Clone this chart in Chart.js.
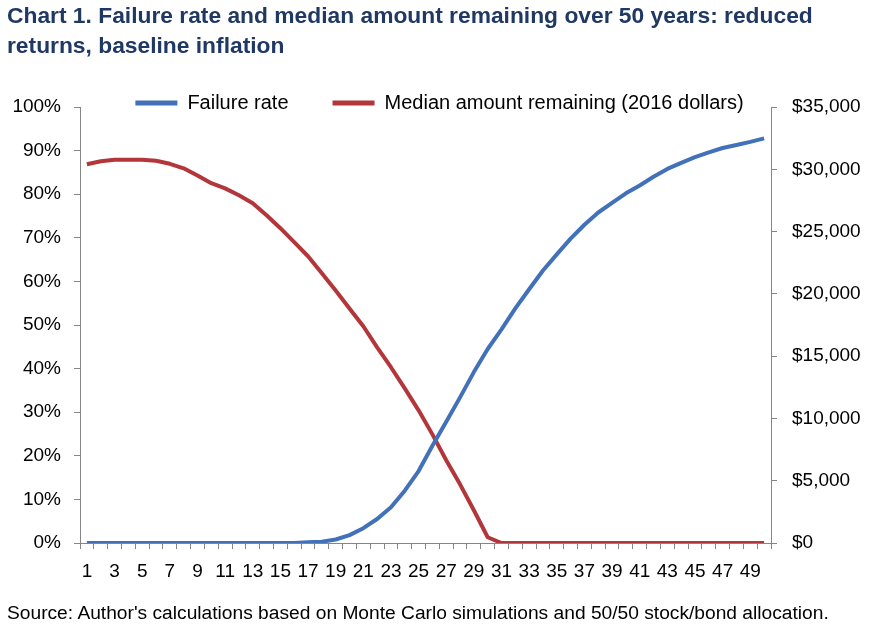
<!DOCTYPE html>
<html>
<head>
<meta charset="utf-8">
<script src="https://cdn.jsdelivr.net/npm/chart.js@4"></script>
<style>
  html, body { margin: 0; padding: 0; background: #fff; }
  #wrap { position: relative; width: 879px; height: 627px; overflow: hidden; }
  #chart { position: absolute; left: 0; top: 0; }
  #title {
    position: absolute; left: 7px; top: 0px;
    font: bold 22.8px "Liberation Sans", Arial, sans-serif;
    line-height: 30px; color: #1f3864;
  }
  #source {
    position: absolute; left: 7px; top: 602px;
    font: 19.2px "Liberation Sans", Arial, sans-serif;
    color: #000;
  }
</style>
</head>
<body>
<div id="wrap">
  <canvas id="chart" width="879" height="627"></canvas>
  <div id="title">Chart 1. Failure rate and median amount remaining over 50 years: reduced<br>returns, baseline inflation</div>
  <div id="source">Source: Author's calculations based on Monte Carlo simulations and 50/50 stock/bond allocation.</div>
</div>
<script>
// years in retirement
const years = [1, 2, 3, 4, 5, 6, 7, 8, 9, 10, 11, 12, 13, 14, 15, 16, 17, 18, 19, 20,
  21, 22, 23, 24, 25, 26, 27, 28, 29, 30, 31, 32, 33, 34, 35, 36, 37, 38, 39, 40,
  41, 42, 43, 44, 45, 46, 47, 48, 49, 50];

// failure rate, percent (left axis)
const failureRate = [0, 0, 0, 0, 0, 0, 0, 0, 0, 0, 0, 0, 0, 0, 0, 0,
  0.2, 0.3, 0.8, 1.8, 3.4, 5.5, 8.2, 12, 16.5, 22.3, 27.8, 33.4, 39.2, 44.5,
  49, 53.8, 58.2, 62.5, 66.2, 69.8, 73, 75.8, 78, 80.2, 82, 84, 85.8, 87.2,
  88.5, 89.6, 90.6, 91.3, 92, 92.8];

// median amount remaining, 2016 dollars (right axis)
const medianAmount = [30400, 30640, 30760, 30760, 30760, 30680, 30440, 30080, 29500, 28880,
  28470, 27910, 27270, 26310, 25270, 24150, 23020, 21650, 20270, 18830,
  17400, 15710, 14110, 12420, 10650, 8720, 6640, 4710, 2630, 460,
  0, 0, 0, 0, 0, 0, 0, 0, 0, 0, 0, 0, 0, 0, 0, 0, 0, 0, 0, 0];

const seriesNames = ['Failure rate', 'Median amount remaining (2016 dollars)'];

const blue = '#4270b9';
const red = '#b3373a';
const axisGrey = '#868686';
const font = 'Liberation Sans, Arial, sans-serif';

// legend sits on top of the plot area: shrink its box for layout,
// then grow it back after layout so the text isnt clipped
const legendFit = {
  id: 'legendFit',
  beforeInit(chart) {
    const origFit = chart.legend.fit;
    chart.legend.fit = function () {
      origFit.bind(chart.legend)();
      this.height = 58;
    };
  },
  afterLayout(chart) {
    chart.legend.bottom += 30;
    chart.legend.height += 30;
  }
};

const chart = new Chart(document.getElementById('chart'), {
  type: 'line',
  data: {
    labels: years,
    datasets: [{
      label: seriesNames[0],
      data: failureRate,
      yAxisID: 'y',
      borderColor: blue,
      backgroundColor: blue,
      borderWidth: 4,
      pointRadius: 0,
      tension: 0,
      borderJoinStyle: 'round'
    }, {
      label: seriesNames[1],
      data: medianAmount,
      yAxisID: 'y2',
      borderColor: red,
      backgroundColor: red,
      borderWidth: 4,
      pointRadius: 0,
      tension: 0,
      borderJoinStyle: 'round'
    }]
  },
  options: {
    responsive: false,
    animation: false,
    layout: { padding: { top: 49, left: 0, right: 0, bottom: 0 } },
    plugins: {
      tooltip: { enabled: false },
      legend: {
        position: 'top',
        labels: {
          boxWidth: 42,
          boxHeight: 5,
          padding: 44,
          color: '#000',
          font: { family: font, size: 20 },
          generateLabels(c) {
            return Chart.defaults.plugins.legend.labels.generateLabels(c)
              .map(l => ({ ...l, lineWidth: 0 }));
          }
        }
      }
    },
    scales: {
      x: {
        offset: true,
        grid: { offset: true, drawOnChartArea: false, tickLength: 6, color: axisGrey },
        border: { color: axisGrey },
        ticks: {
          autoSkip: false,
          maxRotation: 0,
          padding: 11,
          color: '#000',
          font: { family: font, size: 19 },
          callback(v, i) { return years[i] % 2 === 1 ? String(years[i]) : ''; }
        },
        afterFit(s) { s.height = 84; }
      },
      y: {
        position: 'left',
        min: 0, max: 100,
        grid: { drawOnChartArea: false, tickLength: 6, color: axisGrey },
        border: { color: axisGrey },
        ticks: {
          stepSize: 10,
          padding: 13,
          color: '#000',
          font: { family: font, size: 19 },
          callback: v => v + '%'
        },
        afterFit(s) { s.width = 80; }
      },
      y2: {
        position: 'right',
        min: 0, max: 35000,
        grid: { drawOnChartArea: false, tickLength: 6, color: axisGrey },
        border: { color: axisGrey },
        ticks: {
          stepSize: 5000,
          padding: 15,
          color: '#000',
          font: { family: font, size: 19 },
          callback: v => '$' + v.toLocaleString('en-US')
        },
        afterFit(s) { s.width = 108; }
      }
    }
  },
  plugins: [legendFit]
});
</script>
</body>
</html>
